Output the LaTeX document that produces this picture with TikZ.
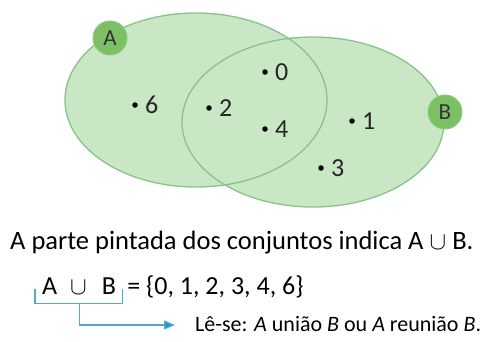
\documentclass[tikz,border=0pt]{standalone}
\usepackage{fontspec}
\setmainfont{Carlito}
\usetikzlibrary{arrows.meta}
\usetikzlibrary{positioning}

\definecolor{verdeclaro}{RGB}{202,231,197}
\definecolor{verdeborda}{RGB}{138,194,140}
\definecolor{verdeetiq}{RGB}{124,192,102}
\definecolor{azulchave}{RGB}{84,168,206}
\definecolor{azulseta}{RGB}{28,150,222}

\newcommand{\uniaosimb}[1]{{\fontsize{#1}{#1}\selectfont$\cup$}}

\tikzset{
  conjunto/.style={draw=verdeborda,line width=1.3pt},
  etiqueta/.style={circle,fill=verdeetiq,draw=verdeetiq!85!white,line width=1pt,
    minimum size=34pt,inner sep=0pt,font=\fontsize{23}{23}\selectfont,text=black!80},
  elemento/.style={circle,fill=black,inner sep=0pt,minimum size=5.5pt},
  numero/.style={inner sep=0pt,font=\fontsize{26}{26}\selectfont,text=black!85},
  chave/.style={draw=azulchave,line width=1.1pt}
}

\begin{document}
\begin{tikzpicture}[x=1pt,y=-1pt]
  \useasboundingbox (0,0) rectangle (480,341);
  \fill[white] (0,0) rectangle (480,341);
  % os dois conjuntos
  \fill[verdeclaro] (196,100) ellipse [x radius=131pt,y radius=87pt];
  \fill[verdeclaro] (313,122) ellipse [x radius=131pt,y radius=85pt];
  \draw[conjunto] (196,100) ellipse [x radius=131pt,y radius=87pt];
  \draw[conjunto] (313,122) ellipse [x radius=131pt,y radius=85pt];
  \node[etiqueta] (rotA) at (110,38) {A};
  \node[etiqueta] (rotB) at (445,112) {B};
  % elementos
  \foreach \n/\x/\y in {0/265/72,6/135/105,2/209/108,4/265/129,1/352/121,3/321/168}{
    \node[elemento] (e\n) at (\x,\y) {};
    \node[numero,right=7pt of e\n] (n\n) {\n};
  }
  % textos
  \node[anchor=base west,inner sep=0pt,font=\fontsize{26.5}{27}\selectfont] (frase) at (10,249)
    {A parte pintada dos conjuntos indica A \uniaosimb{32} B.};
  \node[anchor=base west,inner sep=0pt,font=\fontsize{26}{26}\selectfont] (uniao) at (42,294)
    {A\hspace{13pt}\uniaosimb{34}\hspace{15pt}B};
  \node[inner sep=0pt,font=\fontsize{26}{26}\selectfont,right=11pt of uniao.base east,anchor=base west] (igual)
    {= \{0, 1, 2, 3, 4, 6\}};
  \node[anchor=base west,inner sep=0pt,font=\fontsize{22}{22}\selectfont] (leia) at (195,331)
    {Lê-se: \textit{A} união \textit{B} ou \textit{A} reunião \textit{B}.};
  % chave e seta
  \draw[chave] ([xshift=-7pt,yshift=5pt]uniao.south west) -- ++(0,14)
    -- ([xshift=6pt,yshift=-9pt]uniao.south east) -- ++(0,-14);
  \coordinate (meio) at ([yshift=-9pt]uniao.south);
  \draw[chave,-{Triangle[length=11pt,width=9pt,fill=azulseta]}] (meio) |- ([xshift=-20pt,yshift=6pt]leia.base west);
\end{tikzpicture}
\end{document}
